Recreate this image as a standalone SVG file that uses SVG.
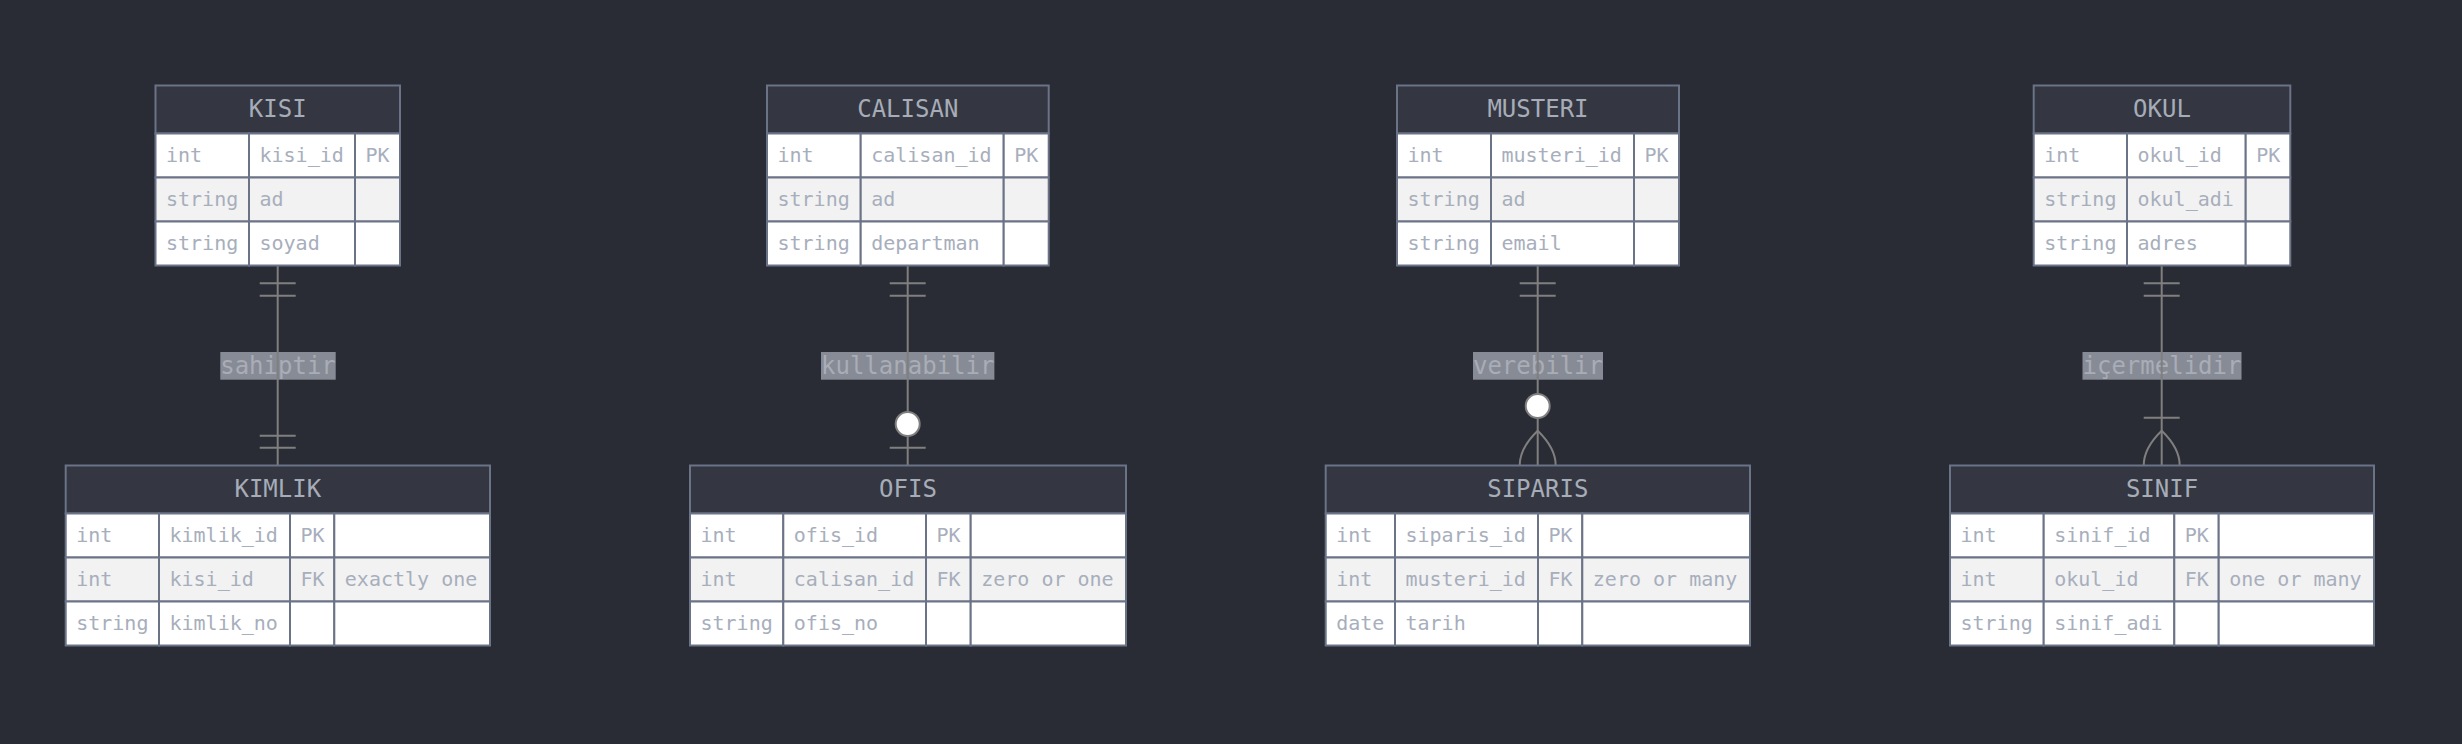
<svg xmlns="http://www.w3.org/2000/svg" width="2462" height="744" viewBox="0 0 2462 744">
<style>
.bg{fill:#292c34}
.hd{fill:#343741;stroke:#6b7387;stroke-width:2}
.c1{fill:#ffffff;stroke:#6b7387;stroke-width:2}
.c2{fill:#f2f2f2;stroke:#6b7387;stroke-width:2}
.ht{font-family:"DejaVu Sans Mono",monospace;font-size:24px;fill:#a6acb8;text-anchor:middle}
.t{font-family:"DejaVu Sans Mono",monospace;font-size:20px;fill:#a7aebc}
.lb{fill:#878b95}
.lt{font-family:"DejaVu Sans Mono",monospace;font-size:24px;fill:#a9adb7;text-anchor:middle}
.ln{stroke:#7f7f7f;stroke-width:2;fill:none}
.ci{fill:#ffffff;stroke:#7f7f7f;stroke-width:2}
</style>
<rect class="bg" x="0" y="0" width="2462" height="744"/>

<g id="labels">
<rect class="lb" x="220.3" y="352" width="115.4" height="27.7"/>
<text class="lt" x="278" y="373.5">sahiptir</text>
<rect class="lb" x="821" y="352" width="173.4" height="27.7"/>
<text class="lt" x="907.7" y="373.5">kullanabilir</text>
<rect class="lb" x="1473" y="352" width="130" height="27.7"/>
<text class="lt" x="1538" y="373.5">verebilir</text>
<rect class="lb" x="2082.5" y="352" width="159" height="27.7"/>
<text class="lt" x="2162" y="373.5">içermelidir</text>
</g>

<g id="connectors">
<line class="ln" x1="277.7" y1="265.5" x2="277.7" y2="465.5"/>
<line class="ln" x1="259.7" y1="283.3" x2="295.7" y2="283.3"/>
<line class="ln" x1="259.7" y1="295.7" x2="295.7" y2="295.7"/>
<line class="ln" x1="259.7" y1="435.7" x2="295.7" y2="435.7"/>
<line class="ln" x1="259.7" y1="447.7" x2="295.7" y2="447.7"/>

<line class="ln" x1="907.7" y1="265.5" x2="907.7" y2="465.5"/>
<line class="ln" x1="889.7" y1="283.3" x2="925.7" y2="283.3"/>
<line class="ln" x1="889.7" y1="295.7" x2="925.7" y2="295.7"/>
<circle class="ci" cx="907.7" cy="424" r="12"/>
<line class="ln" x1="889.7" y1="447.7" x2="925.7" y2="447.7"/>

<line class="ln" x1="1537.7" y1="265.5" x2="1537.7" y2="394"/>
<line class="ln" x1="1537.7" y1="418" x2="1537.7" y2="465.5"/>
<line class="ln" x1="1519.7" y1="283.3" x2="1555.7" y2="283.3"/>
<line class="ln" x1="1519.7" y1="295.7" x2="1555.7" y2="295.7"/>
<circle class="ci" cx="1537.7" cy="406" r="12"/>
<path class="ln" d="M1519.7,465.5 Q1519.7,448 1537.7,430.7 Q1555.7,448 1555.7,465.5"/>

<line class="ln" x1="2161.7" y1="265.5" x2="2161.7" y2="465.5"/>
<line class="ln" x1="2143.7" y1="283.3" x2="2179.7" y2="283.3"/>
<line class="ln" x1="2143.7" y1="295.7" x2="2179.7" y2="295.7"/>
<line class="ln" x1="2143.7" y1="417.7" x2="2179.7" y2="417.7"/>
<path class="ln" d="M2143.7,465.5 Q2143.7,448 2161.7,430.7 Q2179.7,448 2179.7,465.5"/>
</g>

<g id="KISI">
<rect class="hd" x="155.5" y="85.5" width="244.5" height="48"/>
<text class="ht" x="277.7" y="117">KISI</text>
<rect class="c1" x="155.5" y="133.5" width="93.5" height="44"/><rect class="c1" x="249" y="133.5" width="106" height="44"/><rect class="c1" x="355" y="133.5" width="45" height="44"/>
<rect class="c2" x="155.5" y="177.5" width="93.5" height="44"/><rect class="c2" x="249" y="177.5" width="106" height="44"/><rect class="c2" x="355" y="177.5" width="45" height="44"/>
<rect class="c1" x="155.5" y="221.5" width="93.5" height="44"/><rect class="c1" x="249" y="221.5" width="106" height="44"/><rect class="c1" x="355" y="221.5" width="45" height="44"/>
<text class="t" x="166" y="162">int</text><text class="t" x="259.5" y="162">kisi_id</text><text class="t" x="365.5" y="162">PK</text>
<text class="t" x="166" y="206">string</text><text class="t" x="259.5" y="206">ad</text>
<text class="t" x="166" y="250">string</text><text class="t" x="259.5" y="250">soyad</text>
</g>

<g id="CALISAN">
<rect class="hd" x="767" y="85.5" width="281.7" height="48"/>
<text class="ht" x="907.8" y="117">CALISAN</text>
<rect class="c1" x="767" y="133.5" width="93.7" height="44"/><rect class="c1" x="860.7" y="133.5" width="143" height="44"/><rect class="c1" x="1003.7" y="133.5" width="45" height="44"/>
<rect class="c2" x="767" y="177.5" width="93.7" height="44"/><rect class="c2" x="860.7" y="177.5" width="143" height="44"/><rect class="c2" x="1003.7" y="177.5" width="45" height="44"/>
<rect class="c1" x="767" y="221.5" width="93.7" height="44"/><rect class="c1" x="860.7" y="221.5" width="143" height="44"/><rect class="c1" x="1003.7" y="221.5" width="45" height="44"/>
<text class="t" x="777.5" y="162">int</text><text class="t" x="871.2" y="162">calisan_id</text><text class="t" x="1014.2" y="162">PK</text>
<text class="t" x="777.5" y="206">string</text><text class="t" x="871.2" y="206">ad</text>
<text class="t" x="777.5" y="250">string</text><text class="t" x="871.2" y="250">departman</text>
</g>

<g id="MUSTERI">
<rect class="hd" x="1397" y="85.5" width="282" height="48"/>
<text class="ht" x="1538" y="117">MUSTERI</text>
<rect class="c1" x="1397" y="133.5" width="94" height="44"/><rect class="c1" x="1491" y="133.5" width="143" height="44"/><rect class="c1" x="1634" y="133.5" width="45" height="44"/>
<rect class="c2" x="1397" y="177.5" width="94" height="44"/><rect class="c2" x="1491" y="177.5" width="143" height="44"/><rect class="c2" x="1634" y="177.5" width="45" height="44"/>
<rect class="c1" x="1397" y="221.5" width="94" height="44"/><rect class="c1" x="1491" y="221.5" width="143" height="44"/><rect class="c1" x="1634" y="221.5" width="45" height="44"/>
<text class="t" x="1407.5" y="162">int</text><text class="t" x="1501.5" y="162">musteri_id</text><text class="t" x="1644.5" y="162">PK</text>
<text class="t" x="1407.5" y="206">string</text><text class="t" x="1501.5" y="206">ad</text>
<text class="t" x="1407.5" y="250">string</text><text class="t" x="1501.5" y="250">email</text>
</g>

<g id="OKUL">
<rect class="hd" x="2033.7" y="85.5" width="256.6" height="48"/>
<text class="ht" x="2162" y="117">OKUL</text>
<rect class="c1" x="2033.7" y="133.5" width="93.3" height="44"/><rect class="c1" x="2127" y="133.5" width="118.7" height="44"/><rect class="c1" x="2245.7" y="133.5" width="44.6" height="44"/>
<rect class="c2" x="2033.7" y="177.5" width="93.3" height="44"/><rect class="c2" x="2127" y="177.5" width="118.7" height="44"/><rect class="c2" x="2245.7" y="177.5" width="44.6" height="44"/>
<rect class="c1" x="2033.7" y="221.5" width="93.3" height="44"/><rect class="c1" x="2127" y="221.5" width="118.7" height="44"/><rect class="c1" x="2245.7" y="221.5" width="44.6" height="44"/>
<text class="t" x="2044.2" y="162">int</text><text class="t" x="2137.5" y="162">okul_id</text><text class="t" x="2256.2" y="162">PK</text>
<text class="t" x="2044.2" y="206">string</text><text class="t" x="2137.5" y="206">okul_adi</text>
<text class="t" x="2044.2" y="250">string</text><text class="t" x="2137.5" y="250">adres</text>
</g>

<g id="KIMLIK">
<rect class="hd" x="65.7" y="465.5" width="424.3" height="48"/>
<text class="ht" x="277.8" y="497">KIMLIK</text>
<rect class="c1" x="65.7" y="513.5" width="93.3" height="44"/><rect class="c1" x="159" y="513.5" width="131" height="44"/><rect class="c1" x="290" y="513.5" width="44.3" height="44"/><rect class="c1" x="334.3" y="513.5" width="155.7" height="44"/>
<rect class="c2" x="65.7" y="557.5" width="93.3" height="44"/><rect class="c2" x="159" y="557.5" width="131" height="44"/><rect class="c2" x="290" y="557.5" width="44.3" height="44"/><rect class="c2" x="334.3" y="557.5" width="155.7" height="44"/>
<rect class="c1" x="65.7" y="601.5" width="93.3" height="44"/><rect class="c1" x="159" y="601.5" width="131" height="44"/><rect class="c1" x="290" y="601.5" width="44.3" height="44"/><rect class="c1" x="334.3" y="601.5" width="155.7" height="44"/>
<text class="t" x="76.2" y="542">int</text><text class="t" x="169.5" y="542">kimlik_id</text><text class="t" x="300.5" y="542">PK</text>
<text class="t" x="76.2" y="586">int</text><text class="t" x="169.5" y="586">kisi_id</text><text class="t" x="300.5" y="586">FK</text><text class="t" x="344.8" y="586">exactly one</text>
<text class="t" x="76.2" y="630">string</text><text class="t" x="169.5" y="630">kimlik_no</text>
</g>

<g id="OFIS">
<rect class="hd" x="690" y="465.5" width="436" height="48"/>
<text class="ht" x="908" y="497">OFIS</text>
<rect class="c1" x="690" y="513.5" width="93.3" height="44"/><rect class="c1" x="783.3" y="513.5" width="142.7" height="44"/><rect class="c1" x="926" y="513.5" width="44.7" height="44"/><rect class="c1" x="970.7" y="513.5" width="155.3" height="44"/>
<rect class="c2" x="690" y="557.5" width="93.3" height="44"/><rect class="c2" x="783.3" y="557.5" width="142.7" height="44"/><rect class="c2" x="926" y="557.5" width="44.7" height="44"/><rect class="c2" x="970.7" y="557.5" width="155.3" height="44"/>
<rect class="c1" x="690" y="601.5" width="93.3" height="44"/><rect class="c1" x="783.3" y="601.5" width="142.7" height="44"/><rect class="c1" x="926" y="601.5" width="44.7" height="44"/><rect class="c1" x="970.7" y="601.5" width="155.3" height="44"/>
<text class="t" x="700.5" y="542">int</text><text class="t" x="793.8" y="542">ofis_id</text><text class="t" x="936.5" y="542">PK</text>
<text class="t" x="700.5" y="586">int</text><text class="t" x="793.8" y="586">calisan_id</text><text class="t" x="936.5" y="586">FK</text><text class="t" x="981.2" y="586">zero or one</text>
<text class="t" x="700.5" y="630">string</text><text class="t" x="793.8" y="630">ofis_no</text>
</g>

<g id="SIPARIS">
<rect class="hd" x="1325.7" y="465.5" width="424.3" height="48"/>
<text class="ht" x="1537.8" y="497">SIPARIS</text>
<rect class="c1" x="1325.7" y="513.5" width="69.3" height="44"/><rect class="c1" x="1395" y="513.5" width="143" height="44"/><rect class="c1" x="1538" y="513.5" width="44.3" height="44"/><rect class="c1" x="1582.3" y="513.5" width="167.7" height="44"/>
<rect class="c2" x="1325.7" y="557.5" width="69.3" height="44"/><rect class="c2" x="1395" y="557.5" width="143" height="44"/><rect class="c2" x="1538" y="557.5" width="44.3" height="44"/><rect class="c2" x="1582.3" y="557.5" width="167.7" height="44"/>
<rect class="c1" x="1325.7" y="601.5" width="69.3" height="44"/><rect class="c1" x="1395" y="601.5" width="143" height="44"/><rect class="c1" x="1538" y="601.5" width="44.3" height="44"/><rect class="c1" x="1582.3" y="601.5" width="167.7" height="44"/>
<text class="t" x="1336.2" y="542">int</text><text class="t" x="1405.5" y="542">siparis_id</text><text class="t" x="1548.5" y="542">PK</text>
<text class="t" x="1336.2" y="586">int</text><text class="t" x="1405.5" y="586">musteri_id</text><text class="t" x="1548.5" y="586">FK</text><text class="t" x="1592.8" y="586">zero or many</text>
<text class="t" x="1336.2" y="630">date</text><text class="t" x="1405.5" y="630">tarih</text>
</g>

<g id="SINIF">
<rect class="hd" x="1950" y="465.5" width="424" height="48"/>
<text class="ht" x="2162" y="497">SINIF</text>
<rect class="c1" x="1950" y="513.5" width="93.7" height="44"/><rect class="c1" x="2043.7" y="513.5" width="130.6" height="44"/><rect class="c1" x="2174.3" y="513.5" width="44.4" height="44"/><rect class="c1" x="2218.7" y="513.5" width="155.3" height="44"/>
<rect class="c2" x="1950" y="557.5" width="93.7" height="44"/><rect class="c2" x="2043.7" y="557.5" width="130.6" height="44"/><rect class="c2" x="2174.3" y="557.5" width="44.4" height="44"/><rect class="c2" x="2218.7" y="557.5" width="155.3" height="44"/>
<rect class="c1" x="1950" y="601.5" width="93.7" height="44"/><rect class="c1" x="2043.7" y="601.5" width="130.6" height="44"/><rect class="c1" x="2174.3" y="601.5" width="44.4" height="44"/><rect class="c1" x="2218.7" y="601.5" width="155.3" height="44"/>
<text class="t" x="1960.5" y="542">int</text><text class="t" x="2054.2" y="542">sinif_id</text><text class="t" x="2184.8" y="542">PK</text>
<text class="t" x="1960.5" y="586">int</text><text class="t" x="2054.2" y="586">okul_id</text><text class="t" x="2184.8" y="586">FK</text><text class="t" x="2229.2" y="586">one or many</text>
<text class="t" x="1960.5" y="630">string</text><text class="t" x="2054.2" y="630">sinif_adi</text>
</g>
</svg>
